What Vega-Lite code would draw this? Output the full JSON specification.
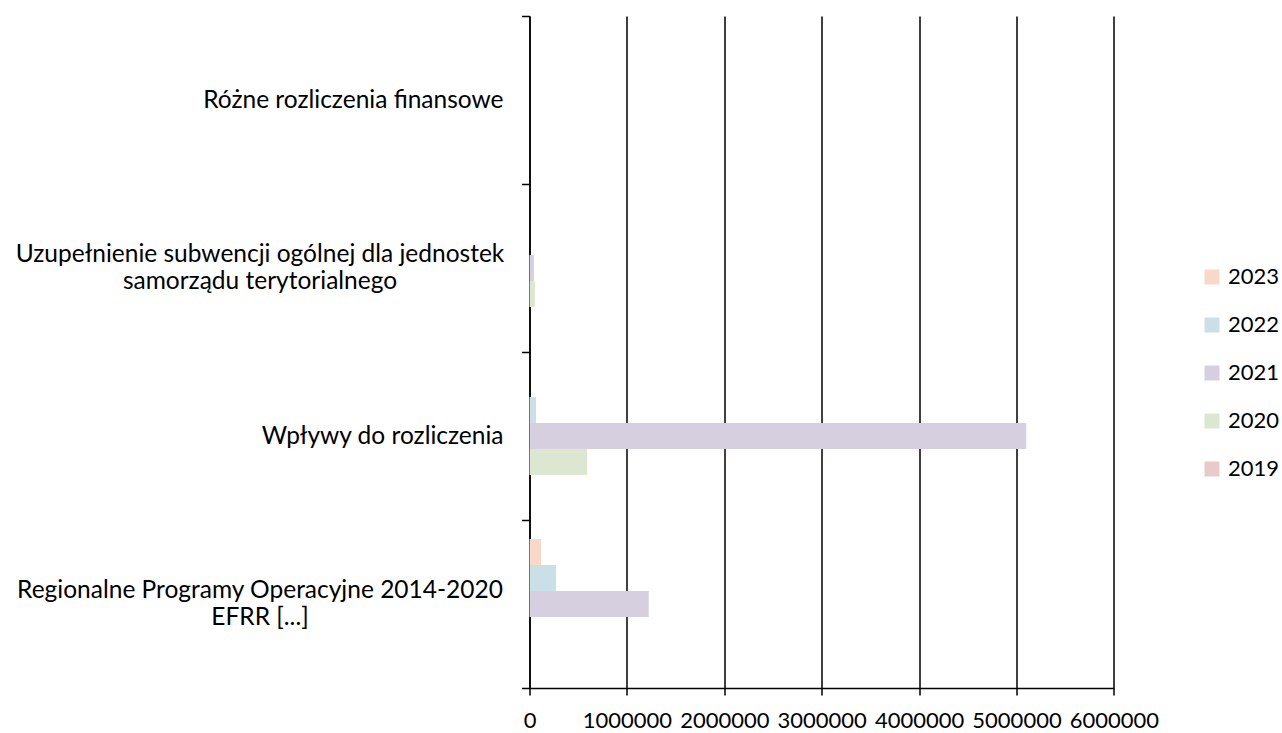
{
  "$schema": "https://vega.github.io/schema/vega-lite/v6.json",
  "width": 584.4,
  "height": 672,
  "autosize": {"type": "none"},
  "padding": {"left": 529.5, "top": 16, "right": 168.1, "bottom": 45},
  "background": "white",
  "config": {"view": {"stroke": null}, "font": "Lato"},
  "data": {
    "values": [
      {"category": "Różne rozliczenia finansowe", "year": "2023", "value": 0},
      {"category": "Różne rozliczenia finansowe", "year": "2022", "value": 0},
      {"category": "Różne rozliczenia finansowe", "year": "2021", "value": 0},
      {"category": "Różne rozliczenia finansowe", "year": "2020", "value": 0},
      {"category": "Różne rozliczenia finansowe", "year": "2019", "value": 0},
      {"category": "Uzupełnienie subwencji ogólnej dla jednostek samorządu terytorialnego", "year": "2023", "value": 0},
      {"category": "Uzupełnienie subwencji ogólnej dla jednostek samorządu terytorialnego", "year": "2022", "value": 0},
      {"category": "Uzupełnienie subwencji ogólnej dla jednostek samorządu terytorialnego", "year": "2021", "value": 45000},
      {"category": "Uzupełnienie subwencji ogólnej dla jednostek samorządu terytorialnego", "year": "2020", "value": 55000},
      {"category": "Uzupełnienie subwencji ogólnej dla jednostek samorządu terytorialnego", "year": "2019", "value": 0},
      {"category": "Wpływy do rozliczenia", "year": "2023", "value": 0},
      {"category": "Wpływy do rozliczenia", "year": "2022", "value": 67000},
      {"category": "Wpływy do rozliczenia", "year": "2021", "value": 5100000},
      {"category": "Wpływy do rozliczenia", "year": "2020", "value": 592000},
      {"category": "Wpływy do rozliczenia", "year": "2019", "value": 0},
      {"category": "Regionalne Programy Operacyjne 2014-2020 EFRR [...]", "year": "2023", "value": 118000},
      {"category": "Regionalne Programy Operacyjne 2014-2020 EFRR [...]", "year": "2022", "value": 272000},
      {"category": "Regionalne Programy Operacyjne 2014-2020 EFRR [...]", "year": "2021", "value": 1224000},
      {"category": "Regionalne Programy Operacyjne 2014-2020 EFRR [...]", "year": "2020", "value": 0},
      {"category": "Regionalne Programy Operacyjne 2014-2020 EFRR [...]", "year": "2019", "value": 0}
    ]
  },
  "mark": {"type": "bar"},
  "encoding": {
    "y": {
      "field": "category",
      "type": "nominal",
      "sort": ["Różne rozliczenia finansowe", "Uzupełnienie subwencji ogólnej dla jednostek samorządu terytorialnego", "Wpływy do rozliczenia", "Regionalne Programy Operacyjne 2014-2020 EFRR [...]"],
      "scale": {"paddingInner": 0, "paddingOuter": 0},
      "axis": {
        "title": null,
        "grid": false,
        "tickBand": "extent",
        "tickSize": 8,
        "tickColor": "#000",
        "tickWidth": 1.5,
        "domainColor": "#000",
        "domainWidth": 1.5,
        "labelFont": "Lato",
        "labelFontSize": 24.5,
        "labelColor": "#000",
        "labelLineHeight": 27,
        "labelLimit": 600,
        "labelExpr": "datum.value === 'Uzupełnienie subwencji ogólnej dla jednostek samorządu terytorialnego' ? ['Uzupełnienie subwencji ogólnej dla jednostek', 'samorządu terytorialnego'] : datum.value === 'Regionalne Programy Operacyjne 2014-2020 EFRR [...]' ? ['Regionalne Programy Operacyjne 2014-2020', 'EFRR [...]'] : datum.value",
        "labelAlign": {"condition": {"test": "datum.value === 'Uzupełnienie subwencji ogólnej dla jednostek samorządu terytorialnego' || datum.value === 'Regionalne Programy Operacyjne 2014-2020 EFRR [...]'", "value": "center"}, "value": "right"},
        "labelPadding": {"condition": {"test": "datum.value === 'Uzupełnienie subwencji ogólnej dla jednostek samorządu terytorialnego' || datum.value === 'Regionalne Programy Operacyjne 2014-2020 EFRR [...]'", "value": 262}, "value": 18.5},
        "labelOffset": {"condition": {"test": "datum.value === 'Uzupełnienie subwencji ogólnej dla jednostek samorządu terytorialnego' || datum.value === 'Regionalne Programy Operacyjne 2014-2020 EFRR [...]'", "value": -13.5}, "value": 0}
      }
    },
    "yOffset": {
      "field": "year",
      "type": "nominal",
      "sort": ["2023", "2022", "2021", "2020", "2019"],
      "scale": {"paddingInner": 0, "paddingOuter": 0.73}
    },
    "x": {
      "field": "value",
      "type": "quantitative",
      "scale": {"domain": [0, 6000000], "nice": false},
      "axis": {
        "title": null,
        "values": [0, 1000000, 2000000, 3000000, 4000000, 5000000, 6000000],
        "format": "d",
        "grid": true,
        "gridColor": "#000",
        "gridWidth": 1.5,
        "domainColor": "#000",
        "domainWidth": 1.5,
        "tickColor": "#000",
        "tickWidth": 1.5,
        "tickSize": 7,
        "labelFont": "Lato",
        "labelFontSize": 22,
        "labelColor": "#000",
        "labelPadding": 15,
        "labelOverlap": false,
        "labelFlush": false
      }
    },
    "color": {
      "field": "year",
      "type": "nominal",
      "scale": {
        "domain": ["2023", "2022", "2021", "2020", "2019"],
        "range": ["#F8D8C8", "#CADFE6", "#D5CFE0", "#DCE6D0", "#E8CACA"]
      },
      "legend": {
        "orient": "none",
        "legendX": 671.5,
        "legendY": 250,
        "title": null,
        "symbolType": "square",
        "symbolSize": 225,
        "symbolStrokeWidth": 0,
        "symbolOpacity": 1,
        "labelFont": "Lato",
        "labelFontSize": 22,
        "labelColor": "#000",
        "labelOffset": 5,
        "rowPadding": 26
      }
    }
  }
}
